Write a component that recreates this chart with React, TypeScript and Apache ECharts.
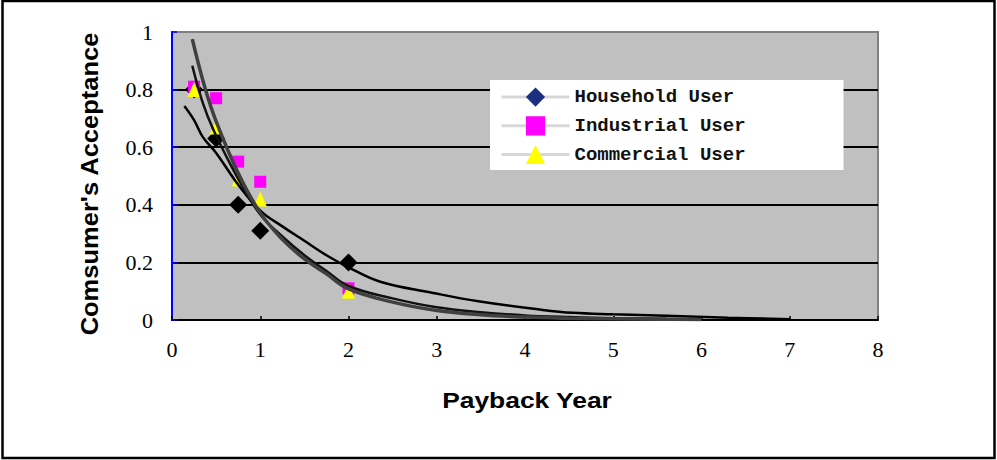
import React, { useEffect, useRef } from "react";
import * as echarts from "echarts";

// Observed data points (payback year vs acceptance)
const paybackYears = [0.25, 0.5, 0.75, 1, 2];
const householdValues = [0.8, 0.63, 0.4, 0.31, 0.2];
const industrialValues = [0.81, 0.77, 0.55, 0.48, 0.11];
const commercialValues = [0.8, 0.67, 0.49, 0.42, 0.1];

// Trend curves
const householdTrendX = [0.14, 0.25, 0.35, 0.5, 0.75, 1, 1.25, 1.5, 1.75, 2, 2.36, 2.96, 3.49, 4.2, 4.54, 5, 5.6, 6.3, 7];
const householdTrendY = [0.743, 0.694, 0.635, 0.58, 0.47, 0.38, 0.325, 0.275, 0.225, 0.183, 0.133, 0.094, 0.064, 0.035, 0.025, 0.02, 0.015, 0.008, 0.003];
const industrialTrendX = [0.23, 0.35, 0.47, 0.75, 1, 1.25, 1.5, 1.75, 2, 2.5, 3, 3.5, 4, 4.5, 5, 5.6];
const industrialTrendY = [0.883, 0.753, 0.66, 0.49, 0.366, 0.29, 0.225, 0.17, 0.118, 0.075, 0.044, 0.027, 0.016, 0.01, 0.006, 0.004];
const commercialTrendX = [0.23, 0.37, 0.5, 0.75, 1, 1.25, 1.5, 1.75, 2, 2.5, 3, 3.5, 4, 4.5, 5, 5.5, 6];
const commercialTrendY = [0.975, 0.81, 0.69, 0.51, 0.372, 0.28, 0.212, 0.16, 0.108, 0.062, 0.033, 0.018, 0.01, 0.006, 0.004, 0.003, 0.002];

const xTickLabels = ["0", "1", "2", "3", "4", "5", "6", "7", "8"];
const yTickLabels = ["0", "0.2", "0.4", "0.6", "0.8", "1"];
const legendNames = ["Household User", "Industrial User", "Commercial User"];

const SERIF = "'Liberation Serif', 'Times New Roman', serif";
const MONO = "'Liberation Mono', 'Courier New', monospace";
const SANS = "'Liberation Sans', Arial, sans-serif";

const zip = (xs: number[], ys: number[]) => xs.map((x, i) => [x, ys[i]]);

export default function App() {
  const ref = useRef<HTMLDivElement>(null);
  useEffect(() => {
    document.body.style.margin = "0";
    if (!ref.current) return;
    const chart = echarts.init(ref.current, null, { renderer: "svg" });
    const markerSeries = (name: string, vals: number[], symbol: string, size: any, color: string, pointColor?: string) => ({
      type: "line",
      name,
      data: paybackYears.map((x, i) =>
        pointColor ? { value: [x, vals[i]], itemStyle: { color: pointColor } } : [x, vals[i]]
      ),
      symbol,
      symbolSize: size,
      showSymbol: true,
      itemStyle: { color, opacity: 1 },
      lineStyle: { width: 0, opacity: 0 },
      emphasis: { disabled: true },
      z: 2,
    });
    const trend = (xs: number[], ys: number[], color: string, width: number) => ({
      type: "line",
      data: zip(xs, ys),
      symbol: "none",
      showSymbol: false,
      smooth: 0.4,
      lineStyle: { color, width },
      emphasis: { disabled: true },
      z: 3,
    });
    chart.setOption({
      animation: false,
      backgroundColor: "#ffffff",
      grid: {
        left: 172,
        top: 32,
        width: 706,
        height: 288,
        show: true,
        backgroundColor: "#C0C0C0",
        borderColor: "#808080",
        borderWidth: 2,
      },
      xAxis: {
        type: "value",
        min: 0,
        max: 8,
        interval: 1,
        axisLine: { show: true, onZero: false, lineStyle: { color: "#000", width: 2 } },
        axisTick: { show: true, inside: true, length: 4, lineStyle: { color: "#000", width: 1.5 } },
        axisLabel: {
          margin: 18,
          fontFamily: SERIF,
          fontSize: 22,
          color: "#000",
          formatter: (_v: number, i: number) => xTickLabels[i],
        },
        splitLine: { show: false },
      },
      yAxis: {
        type: "value",
        min: 0,
        max: 1,
        interval: 0.2,
        axisLine: { show: true, lineStyle: { color: "#0000FF", width: 2 } },
        axisTick: { show: true, inside: true, length: 5, lineStyle: { color: "#0000FF", width: 1.5 } },
        axisLabel: {
          margin: 19,
          fontFamily: SERIF,
          fontSize: 22,
          color: "#000",
          formatter: (_v: number, i: number) => yTickLabels[i],
        },
        splitLine: {
          show: true,
          lineStyle: {
            color: ["rgba(0,0,0,0)", "#000", "#000", "#000", "#000", "rgba(0,0,0,0)"],
            width: 2,
          },
        },
      },
      legend: {
        data: legendNames,
        orient: "vertical",
        left: 490,
        top: 80,
        padding: [7.5, 98, 6, 10],
        itemWidth: 68,
        itemHeight: 24,
        itemGap: 9.5,
        backgroundColor: "#ffffff",
        selectedMode: false,
        textStyle: { fontFamily: MONO, fontSize: 19, fontWeight: "bold", color: "#111" },
        lineStyle: { color: "#D8D8D8", width: 3, opacity: 1 },
      },
      series: [
        markerSeries(legendNames[0], householdValues, "diamond", 18, "#1C2F80", "#000000"),
        markerSeries(legendNames[1], industrialValues, "rect", 12, "#FF00FF"),
        markerSeries(legendNames[2], commercialValues, "triangle", [13, 15], "#FFFF00"),
        trend(householdTrendX, householdTrendY, "#000000", 2.5),
        trend(industrialTrendX, industrialTrendY, "#111111", 2.5),
        trend(commercialTrendX, commercialTrendY, "#404040", 3.5),
      ],
      graphic: [
        {
          type: "rect",
          silent: true,
          z: 100,
          shape: { x: 2.5, y: 1, width: 992, height: 457 },
          style: { fill: "none", stroke: "#000", lineWidth: 2.5 },
        },
        {
          type: "text",
          x: 527,
          y: 400,
          scaleX: 1.2,
          style: {
            text: "Payback Year",
            fontFamily: SANS,
            fontSize: 22,
            fontWeight: "bold",
            fill: "#000",
            align: "center",
            verticalAlign: "middle",
          },
        },
        {
          type: "text",
          x: 90,
          y: 184,
          rotation: Math.PI / 2,
          scaleY: 0.92,
          style: {
            text: "Comsumer's Acceptance",
            fontFamily: SANS,
            fontSize: 25.5,
            fontWeight: "bold",
            fill: "#000",
            align: "center",
            verticalAlign: "middle",
          },
        },
      ],
    });
    return () => chart.dispose();
  }, []);
  return <div ref={ref} style={{ width: 997, height: 460 }} />;
}
